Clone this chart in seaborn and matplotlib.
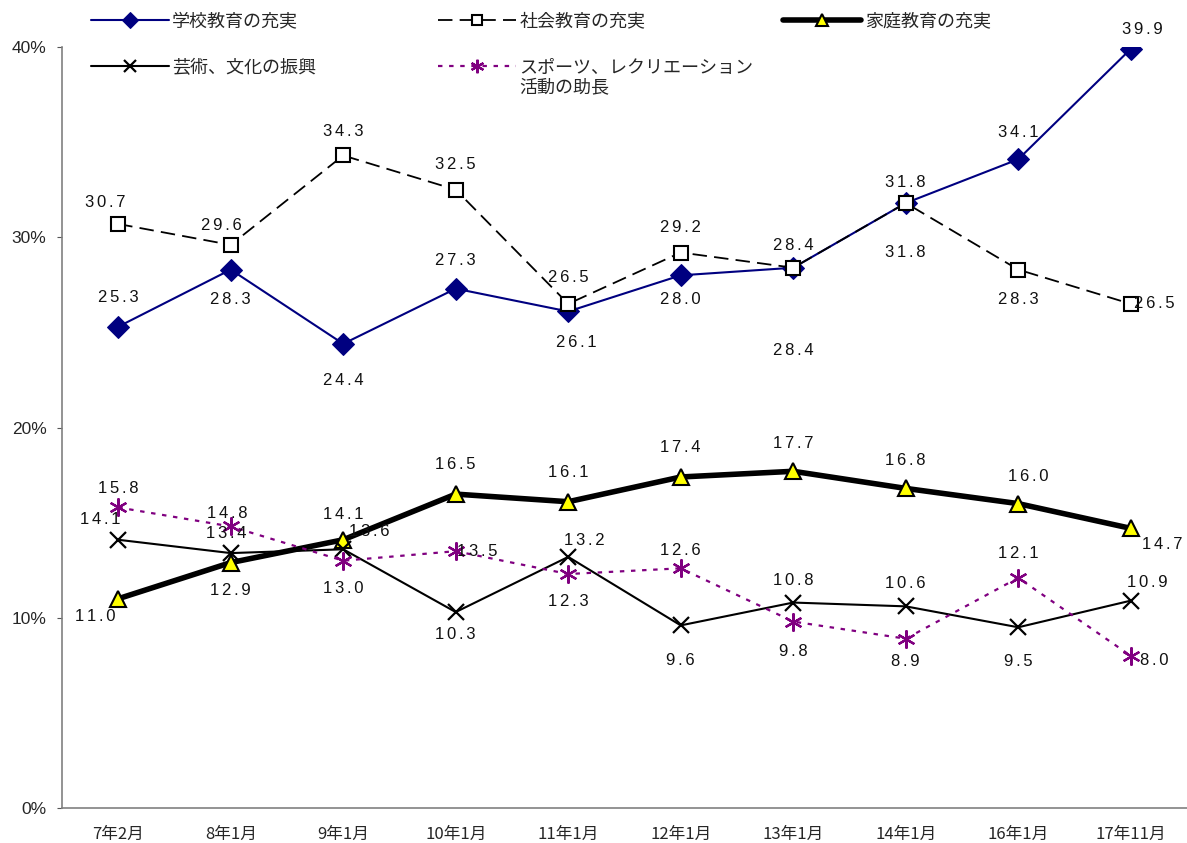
import numpy as np
import matplotlib
matplotlib.use("Agg")
import matplotlib.pyplot as plt
import seaborn as sns

months = ["7年2月", "8年1月", "9年1月", "10年1月", "11年1月",
          "12年1月", "13年1月", "14年1月", "16年1月", "17年11月"]

school = [25.3, 28.3, 24.4, 27.3, 26.1, 28.0, 28.4, 31.8, 34.1, 39.9]
social = [30.7, 29.6, 34.3, 32.5, 26.5, 29.2, 28.4, 31.8, 28.3, 26.5]
home = [11.0, 12.9, 14.1, 16.5, 16.1, 17.4, 17.7, 16.8, 16.0, 14.7]
arts = [14.1, 13.4, 13.6, 10.3, 13.2, 9.6, 10.8, 10.6, 9.5, 10.9]
sports = [15.8, 14.8, 13.0, 13.5, 12.3, 12.6, 9.8, 8.9, 12.1, 8.0]

names = ["学校教育の充実", "社会教育の充実", "家庭教育の充実",
         "芸術、文化の振興", "スポーツ、レクリエーション"]
sports_line2 = "活動の助長"

# where each value label sits relative to its point (pixels, +y is up)
off_school = [(0, 29), (0, -30), (0, -37), (0, 28), (8, -31), (0, -24), (0, -83), (0, -49), (0, 27), (12, 19)]
off_social = [(-13, 21), (-9, 19), (0, 24), (0, 25), (0, 26), (0, 25), (0, 22), (0, 21), (0, -30), (24, 0)]
off_home = [(-23, -18), (0, -28), (0, 25), (0, 30), (0, 29), (0, 29), (0, 28), (0, 28), (10, 27), (32, -16)]
off_arts = [(-18, 20), (-4, 20), (26, 18), (0, -22), (16, 16), (0, -35), (0, 22), (0, 23), (0, -34), (17, 18)]
off_sports = [(0, 19), (-3, 13), (0, -28), (22, 0), (0, -27), (0, 18), (0, -30), (0, -23), (0, 24), (24, -5)]

sns.set_style("white")
plt.rcParams['font.family'] = ['Liberation Sans', 'Noto Sans CJK JP', 'DejaVu Sans']

fig = plt.figure(figsize=(11.87, 8.43), dpi=100)
ax = fig.add_axes([0.0522, 0.0415, 0.9478, 0.9027])

x = np.arange(len(months))
series = [
    (school, dict(color="#000080", marker="D", markersize=11.5, mfc="#000080", mec="#000080", lw=1.5, ls="-")),
    (social, dict(color="black", marker="s", markersize=10.5, mfc="white", mec="black", mew=1.5, lw=1.3, dashes=(8, 4))),
    (home, dict(color="black", marker="^", markersize=11, mfc="#ffff00", mec="black", mew=1.5, lw=4, ls="-")),
    (arts, dict(color="black", marker="x", markersize=11, mec="black", mew=1.6, lw=1.5, ls="-")),
    (sports, dict(color="#800080", marker=(6, 2, 0), markersize=13, mec="#800080", mew=1.6, lw=1.6, dashes=(2, 3))),
]

for (vals, kw), nm in zip(series, names):
    sns.lineplot(x=x, y=vals, ax=ax, label=nm, **kw)


def spaced(v):
    return "\u2006".join(f"{v:.1f}")


all_off = [off_school, off_social, off_home, off_arts, off_sports]
for (vals, kw), offs in zip(series, all_off):
    for xi, v, (dx, dy) in zip(x, vals, offs):
        ax.annotate(spaced(v), (xi, v), xytext=(dx, dy), textcoords="offset pixels",
                    ha="center", va="center", fontsize=12, color="#111111",
                    family=['Liberation Sans', 'DejaVu Sans'])

ax.set_xlim(-0.5, 9.5)
ax.set_ylim(0, 40)
ax.set_yticks([0, 10, 20, 30, 40])
ax.set_yticklabels(["0%", "10%", "20%", "30%", "40%"], fontsize=12.5)
ax.set_xticks(x)
ax.set_xticklabels(months, fontsize=12, family=['Noto Sans CJK JP'])
ax.set_xticks(np.arange(0.5, 9.5, 1), minor=True)
ax.tick_params(axis="x", which="major", length=0, pad=13)
ax.tick_params(axis="x", which="minor", length=6, direction="in", color="#555555")
ax.tick_params(axis="y", length=3.6, direction="out", left=True, color="#555555", pad=7.5)
for s in ["top", "right"]:
    ax.spines[s].set_visible(False)
for s in ["left", "bottom"]:
    ax.spines[s].set_color("#808080")
    ax.spines[s].set_linewidth(1.2)

h, l = ax.get_legend_handles_labels()
ax.get_legend().remove()

# three legend columns placed like the original
cols = [([0, 3], 0.0767), ([1, 4], 0.369), ([2], 0.660)]
legs = []
for idx, xa in cols:
    leg = fig.legend([h[i] for i in idx], [l[i] for i in idx], loc="upper left",
                     bbox_to_anchor=(xa, 0.985), frameon=False, borderpad=0,
                     borderaxespad=0, handlelength=4.3, handletextpad=0.2,
                     markerscale=0.75, labelspacing=1.55,
                     prop={'family': ['Noto Sans CJK JP'], 'size': 13})
    legs.append(leg)

fig.canvas.draw()
tb = legs[1].get_texts()[1].get_window_extent()
fig.text(tb.x0 / fig.bbox.width, (tb.y0 - 3) / fig.bbox.height, sports_line2,
         ha="left", va="top", fontsize=13, family=['Noto Sans CJK JP'])

fig.savefig("out.png", dpi=100)
